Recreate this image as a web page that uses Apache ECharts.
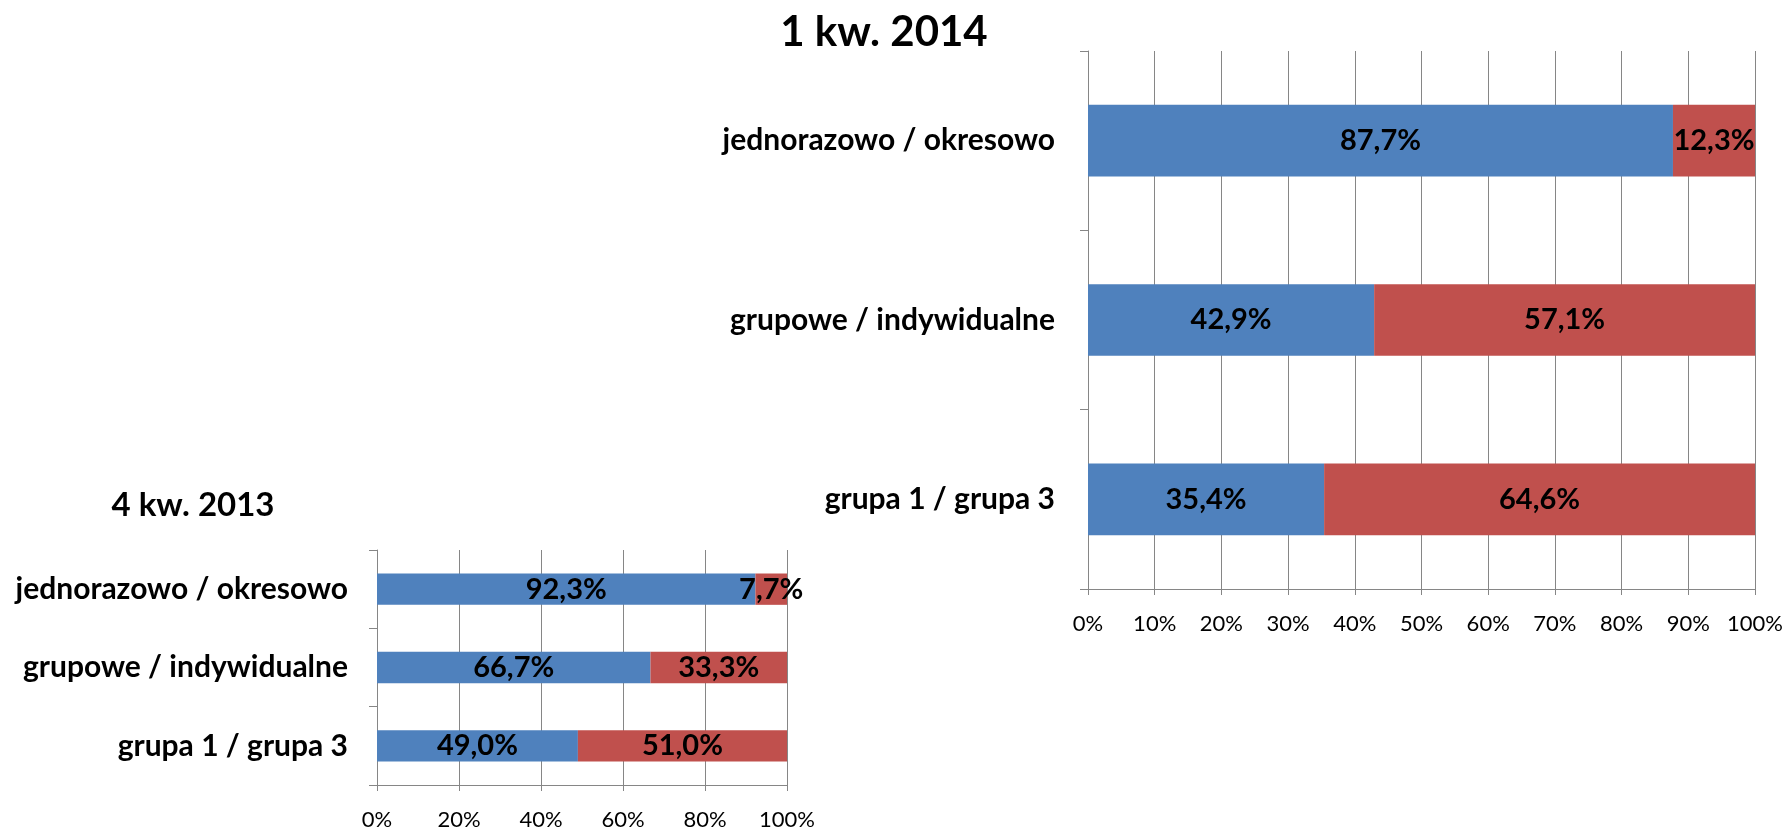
<!DOCTYPE html>
<html>
<head>
<meta charset="utf-8">
<script src="https://cdn.jsdelivr.net/npm/echarts@6/dist/echarts.min.js"></script>
<style>
  html, body { margin: 0; padding: 0; background: #ffffff; }
  #chart { width: 1789px; height: 831px; }
</style>
</head>
<body>
<div id="chart"></div>
<script>
// ---- data ----
const categories = ['jednorazowo / okresowo', 'grupowe / indywidualne', 'grupa 1 / grupa 3'];
const titleRight = '1 kw. 2014';
const titleLeft = '4 kw. 2013';
const right_first = [87.7, 42.9, 35.4];
const right_second = [12.3, 57.1, 64.6];
const left_first = [92.3, 66.7, 49.0];
const left_second = [7.7, 33.3, 51.0];

const FONT = 'Lato';
const BLUE = '#4F81BD';
const RED = '#C0504D';
const GRID = '#868686';

const fmtVal = p => p.value.toFixed(1).replace('.', ',') + '%';

function xAxisCfg(gridIndex, interval) {
  return {
    type: 'value', gridIndex, min: 0, max: 100, interval,
    axisLine: { show: true, lineStyle: { color: GRID, width: 1 } },
    axisTick: { show: true, length: 6, lineStyle: { color: GRID } },
    splitLine: { show: true, lineStyle: { color: GRID, width: 1 } },
    axisLabel: { formatter: '{value}%', fontFamily: FONT, fontSize: 22, color: '#000', margin: 24 }
  };
}
function yAxisCfg(gridIndex, margin) {
  return {
    type: 'category', gridIndex, data: categories, inverse: true,
    axisLine: { show: true, lineStyle: { color: GRID, width: 1 } },
    axisTick: { show: true, length: 8, lineStyle: { color: GRID } },
    axisLabel: { fontFamily: FONT, fontSize: 30, fontWeight: 'bold', color: '#000', margin }
  };
}
function barSeries(name, data, color, xi, yi, stack) {
  return {
    type: 'bar', name, data, stack, xAxisIndex: xi, yAxisIndex: yi,
    barWidth: '40%',
    itemStyle: { color },
    label: { show: true, position: 'inside', formatter: fmtVal, fontFamily: FONT,
             fontSize: 29, fontWeight: 'bold', color: '#000' }
  };
}

const chart = echarts.init(document.getElementById('chart'), null, { renderer: 'canvas' });
chart.setOption({
  animation: false,
  backgroundColor: '#ffffff',
  title: [
    { text: titleRight, left: 879, top: 6, textAlign: 'center',
      textStyle: { fontFamily: FONT, fontSize: 42, fontWeight: 'bold', color: '#000' } },
    { text: titleLeft, left: 188, top: 484, textAlign: 'center',
      textStyle: { fontFamily: FONT, fontSize: 33, fontWeight: 'bold', color: '#000' } }
  ],
  grid: [
    { left: 1088, top: 51, width: 667, height: 538, containLabel: false },
    { left: 377, top: 550, width: 410, height: 236, containLabel: false }
  ],
  xAxis: [xAxisCfg(0, 10), xAxisCfg(1, 20)],
  yAxis: [yAxisCfg(0, 33), yAxisCfg(1, 29)],
  series: [
    barSeries('a', right_first, BLUE, 0, 0, 'r'),
    barSeries('b', right_second, RED, 0, 0, 'r'),
    barSeries('a', left_first, BLUE, 1, 1, 'l'),
    barSeries('b', left_second, RED, 1, 1, 'l')
  ]
});
</script>
</body>
</html>
